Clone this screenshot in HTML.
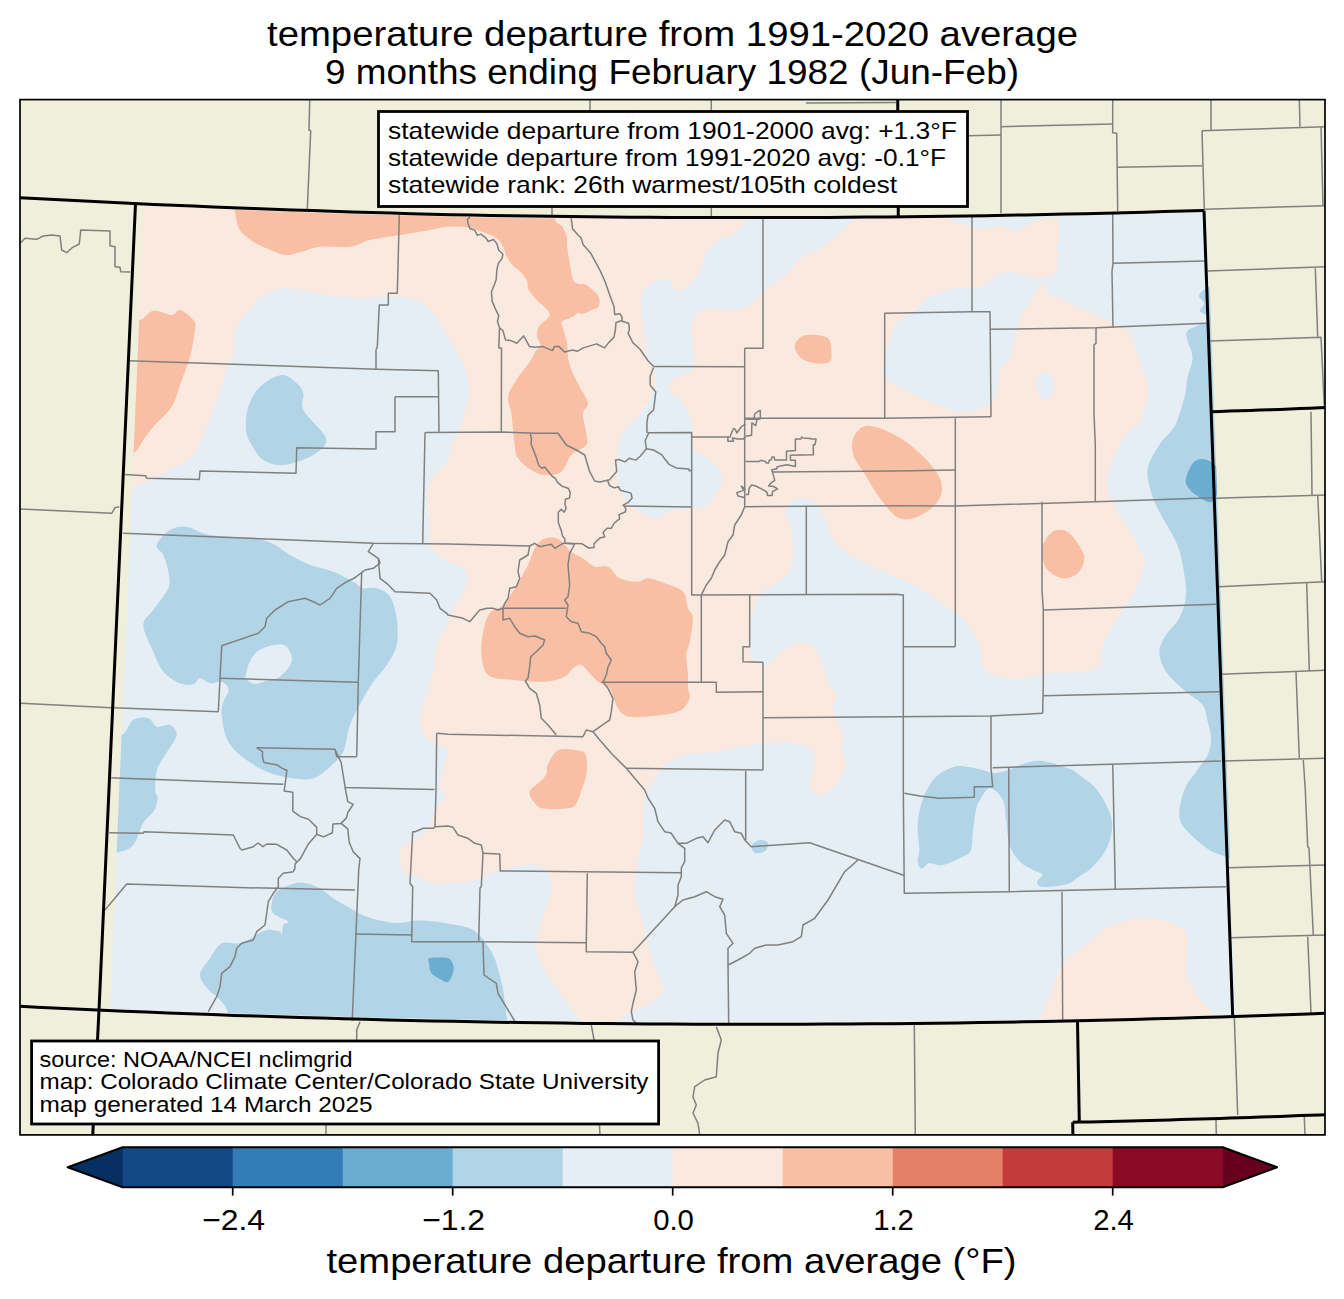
<!DOCTYPE html>
<html><head><meta charset="utf-8"><style>
html,body{margin:0;padding:0;background:#fff;}
svg{display:block;}
text{font-family:"Liberation Sans",sans-serif;fill:#000;}
</style></head><body>
<svg width="1344" height="1299" viewBox="0 0 1344 1299">
<defs>
<clipPath id="frame"><rect x="20" y="100" width="1305" height="1035"/></clipPath>
<clipPath id="data"><polygon points="144,205.9 170.6,207.1 197.2,208.2 223.7,209.3 250.3,210.4 276.9,211.4 303.5,212.3 330,213.2 356.6,214.1 383.2,214.9 409.8,215.6 436.3,216.3 462.9,216.9 489.5,217.4 516.1,217.9 542.6,218.2 569.2,218.6 595.8,218.9 622.4,219.1 649,219.3 675.5,219.5 702.1,219.6 728.7,219.6 755.3,219.6 781.8,219.6 808.4,219.5 835,219.4 861.6,219.2 888.1,218.9 914.7,218.7 941.3,218.3 967.9,217.9 994.4,217.5 1021,217 1047.6,216.5 1074.2,215.9 1100.7,215.3 1127.3,214.6 1153.9,213.9 1180.5,213.1 1207.1,212.3 1235.6,1014.4 1207.5,1015.3 1179.3,1016.2 1151.2,1016.9 1123.1,1017.7 1094.9,1018.3 1066.8,1019 1038.6,1019.5 1010.5,1020.1 982.4,1020.5 954.2,1020.9 926.1,1021.3 897.9,1021.6 869.8,1021.8 841.7,1022 813.5,1022.2 785.4,1022.3 757.2,1022.3 729.1,1022.3 701,1022.2 672.8,1022.1 644.7,1021.9 616.5,1021.7 588.4,1021.4 560.3,1021.1 532.1,1020.7 504,1020.3 475.8,1019.8 447.7,1019.2 419.5,1018.6 391.4,1018 363.3,1017.3 335.1,1016.5 307,1015.7 278.8,1014.8 250.7,1013.9 222.6,1013 194.4,1011.9 166.3,1010.8 138.1,1009.7 110,1008.5"/></clipPath>
</defs>
<rect width="1344" height="1299" fill="#fff"/>

<text x="267" y="45.5" font-size="34.5" textLength="811" lengthAdjust="spacingAndGlyphs">temperature departure from 1991-2020 average</text>
<text x="325" y="83.5" font-size="34.5" textLength="694" lengthAdjust="spacingAndGlyphs">9 months ending February 1982 (Jun-Feb)</text>
<g clip-path="url(#frame)">
<rect x="20" y="100" width="1305" height="1035" fill="#efefdb"/>
<g clip-path="url(#data)">
<polygon points="144,205.9 170.6,207.1 197.2,208.2 223.7,209.3 250.3,210.4 276.9,211.4 303.5,212.3 330,213.2 356.6,214.1 383.2,214.9 409.8,215.6 436.3,216.3 462.9,216.9 489.5,217.4 516.1,217.9 542.6,218.2 569.2,218.6 595.8,218.9 622.4,219.1 649,219.3 675.5,219.5 702.1,219.6 728.7,219.6 755.3,219.6 781.8,219.6 808.4,219.5 835,219.4 861.6,219.2 888.1,218.9 914.7,218.7 941.3,218.3 967.9,217.9 994.4,217.5 1021,217 1047.6,216.5 1074.2,215.9 1100.7,215.3 1127.3,214.6 1153.9,213.9 1180.5,213.1 1207.1,212.3 1235.6,1014.4 1207.5,1015.3 1179.3,1016.2 1151.2,1016.9 1123.1,1017.7 1094.9,1018.3 1066.8,1019 1038.6,1019.5 1010.5,1020.1 982.4,1020.5 954.2,1020.9 926.1,1021.3 897.9,1021.6 869.8,1021.8 841.7,1022 813.5,1022.2 785.4,1022.3 757.2,1022.3 729.1,1022.3 701,1022.2 672.8,1022.1 644.7,1021.9 616.5,1021.7 588.4,1021.4 560.3,1021.1 532.1,1020.7 504,1020.3 475.8,1019.8 447.7,1019.2 419.5,1018.6 391.4,1018 363.3,1017.3 335.1,1016.5 307,1015.7 278.8,1014.8 250.7,1013.9 222.6,1013 194.4,1011.9 166.3,1010.8 138.1,1009.7 110,1008.5" fill="#e4eef4"/>
<path d="M120,190C225.5,139.2 639.1,184.4 743,190C846.9,195.6 744.1,216.6 743.3,223.3C742.5,230 740.2,227.8 738,230C735.8,232.2 732.8,235.3 730,236.7C727.2,238.1 724.6,236.4 721.3,238.3C718,240.2 712.8,245.5 710,248.3C707.2,251.1 705.8,252.2 704.7,255C703.6,257.8 706.1,259.7 703.3,265C700.5,270.3 692.8,282.5 688,286.7C683.2,290.9 677.8,291.1 674.7,290C671.7,288.9 673,281.4 669.7,280C666.4,278.6 659.4,278.9 654.7,281.7C650,284.5 643,288.1 641.3,296.7C639.6,305.3 643.6,322.8 644.7,333.3C645.8,343.9 646.1,352.8 648,360C649.9,367.2 656,370 656.3,376.7C656.6,383.4 653.4,393.1 650,400C646.6,406.9 640.5,412.1 635.7,417.9C630.9,423.6 624.4,428.6 621.4,434.5C618.4,440.4 618.5,445.5 617.9,453.6C617.3,461.7 617.3,476.6 617.9,483.3C618.5,490 618.6,489.8 621.4,494C624.2,498.2 628.5,504.3 634.5,508.3C640.5,512.3 651,517.5 657.1,517.9C663.2,518.3 665,512.3 671.4,510.7C677.8,509.1 689.6,508.9 695.2,508.3C700.8,507.7 701.2,509.7 704.8,507.1C708.4,504.5 713.7,497.2 716.7,492.9C719.7,488.5 722.6,485.4 722.6,481C722.6,476.6 720.9,471.5 716.7,466.7C712.5,461.9 701.8,456.6 697.6,452.4C693.4,448.2 692.5,445.5 691.7,441.7C690.9,437.9 693.5,434.8 692.9,429.8C692.3,424.8 690.1,416.9 688.1,411.9C686.1,406.9 682.7,402.5 681,400C679.3,397.5 680.2,398.4 678,396.7C675.8,395 669.1,392.8 668,390C666.9,387.2 668,382.8 671.3,380C674.6,377.2 684.1,376.1 688,373.3C691.9,370.5 694.2,370 694.7,363.3C695.2,356.6 691.3,341.1 691.3,333.3C691.3,325.5 693.2,320.3 694.7,316.7C696.2,313.1 696.3,313.1 700,311.7C703.7,310.3 710.6,308.6 716.7,308.3C722.8,308 731.2,310.6 736.7,310C742.2,309.4 745,308.6 750,305C755,301.4 760.6,293.3 766.7,288.3C772.8,283.3 781.2,280 786.7,275C792.2,270 794.5,262.8 800,258.3C805.5,253.9 813.9,252.2 820,248.3C826.1,244.4 831.2,239.7 836.7,235C842.2,230.3 850.2,225.8 853.3,220C856.3,214.2 838.9,203.3 855,200C871.1,196.7 934,196.8 950,200C966,203.2 948.2,215.2 950.7,219.3C953.2,223.4 960.2,223 965,224.6C969.8,226.2 974.8,228.6 979.3,229.1C983.8,229.6 988.2,227.9 991.8,227.3C995.4,226.7 997.4,225.1 1000.7,225.5C1004,225.9 1008.1,229.2 1011.4,230C1014.7,230.8 1017.4,230.9 1020.4,230C1023.4,229.1 1025.7,226.4 1029.3,224.6C1032.9,222.8 1037.3,220.3 1041.8,219.3C1046.2,218.3 1053.2,217.5 1056,218.4C1058.8,219.3 1058.3,221.2 1058.8,224.6C1059.3,228 1059.3,235.3 1058.8,238.9C1058.3,242.5 1056,243.7 1056,246.1C1056,248.5 1058.8,250.5 1058.8,253.2C1058.8,255.9 1056,259.7 1056,262.1C1056,264.5 1059.4,265.3 1058.8,267.5C1058.2,269.7 1056.2,273.7 1052.5,275.5C1048.8,277.3 1041.2,278.2 1036.4,278.2C1031.6,278.2 1028.4,276.5 1023.9,275.5C1019.4,274.5 1014.1,272.1 1009.6,272C1005.1,271.9 1000.7,273 997.1,274.6C993.5,276.2 991.5,279.6 988.2,281.8C984.9,284 982.9,287 977.5,288C972.1,289 962.1,287.2 956.1,288C950.1,288.8 946.6,290.9 941.8,292.5C937,294.1 932,294.9 927.5,297.9C923,300.9 920.1,306.1 915,310.4C909.9,314.7 901.3,317.2 896.8,323.5C892.3,329.8 890.3,340.2 887.9,348C885.5,355.8 882.1,364.8 882.3,370.4C882.5,376 883.4,377.4 889,381.5C894.6,385.6 905.8,390.2 915.8,394.9C925.8,399.5 941.1,406.5 949.3,409.4C957.5,412.3 959.3,412.6 964.9,412.2C970.5,411.8 977.9,409.3 982.8,407.2C987.6,405.1 991.4,402.8 994,399.4C996.6,396 997.5,391.8 998.4,387.1C999.3,382.5 997.6,376.5 999.5,371.5C1001.4,366.5 1006.6,365.9 1010,357C1013.4,348.1 1016.7,327.3 1020,318.3C1023.3,309.3 1027.6,307.3 1030,303C1032.4,298.7 1032,295.7 1034.6,292.5C1037.2,289.3 1043.2,283.3 1045.4,283.6C1047.6,283.9 1046.2,292.1 1048,294.3C1049.8,296.5 1052.9,295.8 1056,297C1059.1,298.2 1062.8,299.5 1066.8,301.4C1070.8,303.3 1072.8,305.2 1080,308.6C1087.2,312 1101.7,317.6 1110,321.7C1118.3,325.8 1125.5,328.3 1130,333.3C1134.5,338.3 1134.5,345.3 1136.7,351.7C1138.9,358.1 1141.4,365 1143.3,371.7C1145.2,378.4 1148.5,383.4 1148,391.7C1147.5,400 1144.1,413.9 1140,421.7C1135.9,429.5 1127.8,432.2 1123.3,438.3C1118.8,444.4 1116.1,451.1 1113.3,458.3C1110.5,465.5 1106.7,473.9 1106.7,481.7C1106.7,489.5 1110,497.8 1113.3,505C1116.6,512.2 1122.2,517.5 1126.7,525C1131.2,532.5 1137,543.6 1140,550C1143,556.4 1146.1,556.1 1145,563.3C1143.9,570.5 1138,583.8 1133.3,593.3C1128.6,602.8 1121.7,611.7 1116.7,620C1111.7,628.3 1106.1,635.8 1103.3,643.3C1100.5,650.8 1103.3,660.3 1100,665C1096.7,669.7 1092.2,670.3 1083.3,671.7C1074.4,673.1 1056.1,672.2 1046.7,673.3C1037.3,674.4 1035,677.7 1026.7,678.3C1018.4,678.9 1003.9,678.6 996.7,676.7C989.5,674.8 986.1,671.7 983.3,666.7C980.5,661.7 982.8,653.9 980,646.7C977.2,639.5 972.2,630 966.7,623.3C961.2,616.6 955,612.8 946.7,606.7C938.4,600.6 926.7,592.3 916.7,586.7C906.7,581.1 897.3,578.3 886.7,573.3C876.1,568.3 862.2,562.2 853.3,556.7C844.4,551.2 838.3,547 833.3,540C828.3,533 826.6,521.4 823.3,515C820,508.6 817.7,504.5 813.3,501.7C808.9,498.9 801.4,496.6 796.7,498.3C792,500 786.1,507.5 785,511.7C783.9,515.9 788.6,517.5 790,523.3C791.4,529.1 793.3,538.9 793.3,546.7C793.3,554.5 792.8,563.9 790,570C787.2,576.1 781.7,579.4 776.7,583.3C771.7,587.2 763.6,589.4 760,593.3C756.4,597.2 756.7,600.6 755,606.7C753.3,612.8 750.5,621.7 750,630C749.5,638.3 748.9,650.9 751.7,656.7C754.5,662.5 762,665.6 766.7,665C771.4,664.4 775,656.9 780,653.3C785,649.7 791.2,644.4 796.7,643.3C802.2,642.2 808.9,642.8 813.3,646.7C817.7,650.6 820.5,660 823.3,666.7C826.1,673.4 827.8,682.3 830,686.7C832.2,691.1 836.2,689.4 836.7,693.3C837.2,697.2 832.8,704.4 833.3,710C833.8,715.6 838.3,722.2 840,726.7C841.7,731.2 843,733.4 843.3,736.7C843.6,740 841.4,742.3 841.7,746.7C842,751.1 845.3,757.8 845,763.3C844.7,768.8 842,775.8 840,780C838,784.2 836.6,785.8 833.3,788.3C830,790.8 823.9,795.3 820,795C816.1,794.7 811.1,791.4 810,786.7C808.9,782 812.8,772.5 813.3,766.7C813.8,760.9 816.1,755.6 813.3,751.7C810.5,747.8 802.8,745 796.7,743.3C790.6,741.6 785.6,741.1 776.7,741.7C767.8,742.3 753.3,745 743.3,746.7C733.3,748.4 723.9,750.6 716.7,751.7C709.5,752.8 705.9,752.5 700,753.3C694.1,754.1 687.2,754.8 681.3,756.7C675.4,758.7 669.2,761.1 664.7,765C660.2,768.9 657.7,774.5 654.5,780C651.3,785.5 647.4,791.9 645.5,797.9C643.6,803.9 643.7,809 643.3,815.7C642.9,822.4 644,831.3 643.3,838C642.5,844.7 640.1,849.6 638.8,855.9C637.5,862.2 636.2,870 635.5,876C634.8,882 633.9,886 634.4,891.6C634.9,897.2 636.9,902.8 638.8,909.5C640.6,916.2 643.3,923.6 645.5,931.8C647.7,940 650,951.2 652.2,958.6C654.4,966 657,971.6 658.9,976.4C660.8,981.2 663.4,984.2 663.4,987.6C663.4,991 661.9,993.5 658.9,996.5C655.9,999.5 650,1002.8 645.5,1005.4C641,1008 636.2,1009.7 632.1,1012.1C628,1014.5 622.9,1015.4 621,1020C619.1,1024.7 628.1,1036.7 621,1040C613.9,1043.3 585.7,1043.3 578.6,1040C571.5,1036.7 580.5,1026.1 578.6,1020C576.7,1013.9 571.1,1008.6 567.4,1003.2C563.7,997.8 560.4,993.6 556.3,987.6C552.2,981.6 546.2,973.8 542.9,967.5C539.5,961.2 536.8,956.7 536.2,949.6C535.6,942.5 537.6,932.5 539.5,925.1C541.4,917.7 545.2,911.7 547.3,905C549.3,898.3 552,890.6 551.8,884.9C551.6,879.2 549.3,874.4 546.3,871C543.3,867.6 539.9,865.3 534,864.8C528.1,864.3 518.6,866.3 510.9,867.8C503.2,869.3 493.2,872.1 487.8,874C482.4,875.9 483.6,878 478.5,879.4C473.4,880.8 464.9,881.8 457,882.4C449.1,883 437.7,884.4 430.8,883.2C423.9,882.1 419.8,877.3 415.4,875.5C411,873.7 407.2,874.7 404.6,872.4C402,870.1 400.5,865.8 400,861.7C399.5,857.6 399.8,851.1 401.6,847.8C403.4,844.4 407.2,843.6 410.8,841.6C414.4,839.6 419.8,838.6 423.1,835.5C426.4,832.4 428.8,827.8 430.8,823.2C432.9,818.6 433.1,811.9 435.4,807.8C437.7,803.7 443.9,802.1 444.7,798.5C445.5,794.9 440,792.4 440,786.2C440,780.1 443.4,767.8 444.7,761.6C446,755.5 449.2,752.4 447.7,749.3C446.1,746.2 439.5,745.7 435.4,743.1C431.3,740.5 425.7,738.5 423.1,733.9C420.5,729.3 419.8,721 420,715.4C420.2,709.8 422.4,707.3 424.6,700C426.8,692.7 431.3,680.9 433.3,671.7C435.3,662.5 434.2,653.3 436.7,645C439.1,636.7 445.6,627.2 448,621.7C450.4,616.2 449.1,616.2 451.3,611.7C453.5,607.2 458.5,600.6 461.3,595C464.1,589.4 468,583 468,578.3C468,573.6 464.6,569.5 461.3,566.7C458,563.9 452.9,564.8 448,561.7C443.1,558.6 434.7,553.9 431.7,548.3C428.7,542.7 430.8,537.2 430,528.3C429.2,519.4 426.1,503.9 426.7,495C427.2,486.1 429.8,480.8 433.3,475C436.9,469.2 445,465 448,460C451,455 449.6,449.4 451.3,445C453,440.6 455.5,439.7 458,433.3C460.5,426.9 464.6,415 466.3,406.7C468,398.4 468.8,391.1 468,383.3C467.2,375.5 464.6,367.6 461.3,360C458,352.4 453.2,346.3 448,338C442.8,329.7 436.3,316.6 430,310C423.7,303.4 417.8,300.5 410,298.3C402.2,296.1 392.2,296.7 383.3,296.7C374.4,296.7 367.2,298.9 356.7,298.3C346.1,297.7 332.2,295 320,293.3C307.8,291.6 293.3,287.5 283.3,288.3C273.3,289.1 266.1,294.1 260,298.3C253.9,302.5 250.9,308 246.7,313.3C242.5,318.6 237.2,323.3 235,330C232.8,336.7 234.7,346.6 233.3,353.3C231.9,360 229.2,362.8 226.7,370C224.2,377.2 221.4,387.8 218.3,396.7C215.2,405.6 211.1,416.1 208.3,423.3C205.5,430.5 203.6,435.6 201.7,440C199.8,444.4 198.6,446.9 196.7,450C194.8,453.1 194.4,455 190,458.3C185.6,461.6 177.2,466.1 170,470C162.8,473.9 152.8,478.6 146.7,481.7C140.6,484.8 139.4,486.1 133.3,488.3C127.2,490.5 112.2,544.7 110,495C107.8,445.3 14.5,240.8 120,190Z" fill="#fae9df"/>
<path d="M1039.3,1020C1041.7,1012.8 1045.4,1005.9 1049.3,996.7C1053.2,987.5 1057.1,973.3 1062.7,965C1068.3,956.7 1076,952.5 1082.7,946.7C1089.4,940.9 1096,934.2 1102.7,930C1109.4,925.8 1115.5,923.8 1122.7,921.7C1129.9,919.7 1137.7,917.4 1146,917.7C1154.3,918 1165.8,920.1 1172.7,923.3C1179.7,926.5 1185.5,928.9 1187.7,936.7C1189.9,944.5 1184.6,960.6 1186,970C1187.4,979.4 1191.8,986.1 1196,993.3C1200.2,1000.5 1207.8,1005.5 1211,1013.3C1214.2,1021.1 1244.3,1035.5 1215,1040C1185.7,1044.5 1064.3,1043.3 1035,1040C1005.7,1036.7 1036.9,1027.2 1039.3,1020Z" fill="#fae9df"/>
<ellipse cx="1045" cy="386" rx="8.5" ry="14" fill="#e4eef4"/>
<path d="M235,195C288.8,193.1 504.6,195.9 558,200C611.4,204.1 554.5,215.1 555.1,219.4C555.7,223.8 559.9,223.4 561.8,226.1C563.7,228.8 565.6,232.1 566.5,235.4C567.4,238.8 566.6,241.5 567.1,246.2C567.6,250.9 568.8,258 569.8,263.6C570.8,269.2 571.9,276.2 573.2,279.6C574.5,283 575.9,282.9 577.8,283.7C579.7,284.5 582.5,283.6 584.5,284.3C586.5,285 587.5,285.7 589.9,287.7C592.2,289.7 597.1,293.3 598.6,296.4C600.1,299.5 599.9,304.1 598.6,306.4C597.3,308.7 593.2,309.2 590.6,310.4C588,311.6 585.3,313.4 583.2,313.8C581.1,314.2 579.6,312.6 577.8,313.1C576,313.7 575.2,315.7 572.5,317.1C569.8,318.6 563.4,320 561.8,321.8C560.2,323.6 562.4,325.3 563.1,327.9C563.8,330.5 565.1,334.5 565.8,337.2C566.5,339.9 566.6,340.1 567.1,343.9C567.6,347.7 567.5,355.1 568.5,360C569.5,364.9 571.1,368.9 573,373.3C574.9,377.8 577.2,381.7 579.7,386.7C582.2,391.7 587.5,398.9 588,403.3C588.5,407.7 583.3,408.3 583,413.3C582.7,418.3 585.8,428 586.3,433.3C586.8,438.6 588.8,441.4 586.3,445C583.8,448.6 575.5,450.6 571.3,455C567.1,459.4 565.7,468.4 561.3,471.7C556.9,475 549.7,475.3 544.7,475C539.7,474.7 535.8,472.8 531.3,470C526.8,467.2 520.8,462.5 518,458.3C515.2,454.1 515.8,452.5 514.7,445C513.6,437.5 512.4,421.4 511.3,413.3C510.2,405.2 507.2,402.2 508,396.7C508.8,391.1 512.5,386.1 516.3,380C520.1,373.9 527.9,364.7 531,360C534.1,355.3 533.4,354.4 535,352C536.6,349.6 540.1,348 540.4,345.3C540.7,342.6 537.2,339 537,335.9C536.8,332.8 536.9,330.2 539,326.5C541.1,322.8 550.2,318.3 549.7,313.8C549.2,309.3 539.9,303.8 536.3,299.7C532.7,295.6 529.8,292.1 528.3,289C526.8,285.9 528.3,283.9 527,281C525.7,278.1 522.5,274.1 520.3,271.6C518.1,269.1 515.8,268.6 513.6,266.2C511.4,263.8 508.7,260.2 506.9,256.9C505.1,253.6 504.7,249.3 502.9,246.2C501.1,243.1 498.9,240.2 496.2,238.1C493.5,236 491.5,235.2 486.8,233.4C482.1,231.6 474.5,228.5 468,227.4C461.5,226.3 454.3,226.3 448,226.7C441.7,227.1 438,228.6 430,230C422,231.4 410,233.3 400,235C390,236.7 378.3,238.1 370,240C361.7,241.9 358.3,245.6 350,246.7C341.7,247.8 328.1,245.9 320,246.7C311.9,247.5 307.5,250.3 301.7,251.7C295.9,253.1 290.8,255.6 285,255C279.2,254.4 272,250.5 266.7,248.3C261.4,246.1 257.8,244.8 253.3,241.7C248.9,238.6 243.1,235 240,230C236.9,225 235.8,217.5 235,211.7C234.2,205.9 181.2,196.9 235,195Z" fill="#f8bfa4"/>
<path d="M120,320C123.3,298 134.4,321.6 140,320C145.6,318.4 148,311.5 153.3,310.7C158.6,309.9 167.2,315.1 171.7,315C176.1,314.9 176.4,309.2 180,310C183.6,310.8 190.8,316.7 193.3,320C195.8,323.3 195.6,323.9 195,330C194.4,336.1 192.2,348.4 190,356.7C187.8,365 184.8,371.7 181.7,380C178.6,388.3 176.4,398.9 171.7,406.7C167,414.5 158,421.1 153.3,426.7C148.6,432.2 146.4,435.8 143.3,440C140.2,444.2 138.9,450 135,452C131.1,454 122.5,474 120,452C117.5,430 116.7,342 120,320Z" fill="#f8bfa4"/>
<path d="M794.7,346.7C794.7,343.1 798,338.6 801.3,336.7C804.6,334.8 810.2,334.7 814.7,335C819.2,335.3 825.2,335.8 828,338.3C830.8,340.8 831,346.1 831.3,350C831.6,353.9 832.5,359.5 829.7,361.7C826.9,363.9 819.4,363.9 814.7,363.3C810,362.7 804.6,361.1 801.3,358.3C798,355.5 794.7,350.3 794.7,346.7Z" fill="#f8bfa4"/>
<path d="M539.7,541.7C541.9,539.9 544.7,538 548,537.7C551.3,537.4 555.8,537.7 559.7,540C563.6,542.3 567.4,548.7 571.3,551.7C575.2,554.8 579.1,555.8 583,558.3C586.9,560.8 590.5,565.3 594.7,566.7C598.9,568.1 603.8,564.8 608,566.7C612.2,568.6 614.7,575.8 619.7,578.3C624.7,580.8 633.3,581.7 638,581.7C642.7,581.7 643.5,578 648,578.3C652.5,578.6 658.9,581.1 664.7,583.3C670.5,585.5 679.1,587.5 683,591.7C686.9,595.9 686.3,603.9 688,608.3C689.7,612.7 692.7,612.7 693,618.3C693.3,623.9 690.8,635.6 689.7,641.7C688.6,647.8 686.6,649.5 686.3,655C686,660.5 687.7,669.5 688,675C688.3,680.5 687.7,684.4 688,688.3C688.3,692.2 690.8,694.7 689.7,698.3C688.6,701.9 686,707.2 681.3,710C676.6,712.8 669.9,713.9 661.3,715C652.7,716.1 636.9,717.8 629.7,716.7C622.5,715.6 621.3,713 618,708.3C614.7,703.6 613,692.7 609.7,688.3C606.4,683.9 601.1,683.9 598,681.7C594.9,679.5 594.1,677.8 591.3,675C588.5,672.2 584.3,666.1 581.3,665C578.2,663.9 575.8,666.3 573,668.3C570.2,670.2 569.4,674.5 564.7,676.7C560,678.9 553,681.2 544.7,681.7C536.4,682.2 524.2,681.1 514.7,680C505.3,678.9 493.6,679.7 488,675C482.4,670.3 481.9,660 481.3,651.7C480.8,643.4 483,631.7 484.7,625C486.4,618.3 488.2,615 491.3,611.7C494.4,608.4 499.1,608.9 503,605C506.9,601.1 510.5,595 514.7,588.3C518.9,581.6 524.7,571.7 528,565C531.3,558.3 532.8,552.2 534.7,548.3C536.7,544.4 537.5,543.5 539.7,541.7Z" fill="#f8bfa4"/>
<path d="M558.6,750C564,747.7 575.4,749.7 580,750.8C584.6,751.9 585.2,752.7 586.3,756.7C587.3,760.7 587.1,769.5 586.3,775C585.5,780.5 582.7,785.8 581.3,790C579.9,794.2 579.7,797 578,800C576.3,803 576.7,806.4 570.9,807.8C565.1,809.2 549.6,809.8 543.2,808.5C536.8,807.2 534.6,803 532.4,800C530.2,797 528.8,793.9 530.1,790.8C531.4,787.7 537.4,784.4 540.1,781.6C542.8,778.8 545,776.7 546.3,773.9C547.6,771.1 545.8,768.7 547.8,764.7C549.8,760.7 553.2,752.3 558.6,750Z" fill="#f8bfa4"/>
<path d="M853.3,438.3C855,433.6 858.8,428.4 863.3,426.7C867.8,425 873.3,426.1 880,428.3C886.7,430.5 896.1,435.3 903.3,440C910.5,444.7 917.5,450.9 923.3,456.7C929.1,462.5 935.2,469.2 938.3,475C941.4,480.8 942.5,486.4 941.7,491.7C940.9,497 938,502.3 933.3,506.7C928.6,511.1 919.4,516.6 913.3,518.3C907.2,520 902.2,520 896.7,516.7C891.2,513.4 885.6,505.8 880,498.3C874.4,490.8 867.8,478.9 863.3,471.7C858.8,464.5 855,460.6 853.3,455C851.6,449.4 851.6,443 853.3,438.3Z" fill="#f8bfa4"/>
<path d="M1042.7,545C1044.4,540.6 1048.8,534 1052.7,531.7C1056.6,529.4 1061.8,529.1 1066,531C1070.2,532.9 1074.7,538.8 1077.7,543.3C1080.8,547.8 1084.3,553.3 1084.3,558.3C1084.3,563.3 1081.3,570 1077.7,573.3C1074.1,576.6 1067.7,578.8 1062.7,578.3C1057.7,577.8 1051,573.3 1047.7,570C1044.4,566.7 1043.5,562.5 1042.7,558.3C1041.9,554.1 1041,549.4 1042.7,545Z" fill="#f8bfa4"/>
<path d="M248.3,406.7C250.6,399.5 254.4,392 260,386.7C265.6,381.4 275.6,375.6 281.7,375C287.8,374.4 293.1,380.2 296.7,383.3C300.3,386.4 302.2,388.9 303.3,393.3C304.4,397.8 300,403.3 303.3,410C306.6,416.7 319.7,427.5 323.3,433.3C326.9,439.1 327.2,441.1 325,445C322.8,448.9 316.9,453.4 310,456.7C303.1,460 291.1,464.4 283.3,465C275.5,465.6 268.6,463.3 263.3,460C258,456.7 254.6,450 251.7,445C248.8,440 246.6,436.4 246,430C245.4,423.6 246,413.9 248.3,406.7Z" fill="#b1d5e7"/>
<path d="M156.7,545C157.8,540.8 165,533 170,530C175,527 180,525.9 186.7,526.7C193.4,527.5 197.2,532.8 210,535C222.8,537.2 250,536.7 263.3,540C276.6,543.3 282.2,550.8 290,555C297.8,559.2 302.8,562.2 310,565C317.2,567.8 326.1,568.9 333.3,571.7C340.5,574.5 348.3,578.9 353.3,581.7C358.3,584.5 359.4,587.2 363.3,588.3C367.2,589.4 372.2,586.9 376.7,588.3C381.1,589.7 386.7,591.7 390,596.7C393.3,601.7 395.6,610.2 396.7,618.3C397.8,626.3 398.4,637.2 396.7,645C395,652.8 390.6,658.9 386.7,665C382.8,671.1 377.2,676.2 373.3,681.7C369.4,687.2 367.2,691.1 363.3,698.3C359.4,705.5 353.3,716.1 350,725C346.7,733.9 346.6,744.8 343.3,751.7C340,758.7 335,762.3 330,766.7C325,771.1 319.4,776.4 313.3,778.3C307.2,780.2 301.1,779.4 293.3,778.3C285.5,777.2 275.6,775.6 266.7,771.7C257.8,767.8 246.7,760.6 240,755C233.3,749.4 229.8,745 226.7,738.3C223.6,731.6 222.3,721.1 221.7,715C221.1,708.9 222.2,705.6 223.3,701.7C224.4,697.8 227.7,694.5 228.3,691.7C228.9,688.9 228.1,686.7 226.7,685C225.3,683.3 222.8,682 220,681.7C217.2,681.4 213.3,683.9 210,683.3C206.7,682.7 202.8,678.1 200,678.3C197.2,678.5 196.6,683.5 193.3,684.3C190,685.1 185,685.4 180,683.3C175,681.2 167.8,677 163.3,671.7C158.9,666.4 156.6,659.5 153.3,651.7C150,643.9 143.3,632 143.3,625C143.3,618 149.1,616.1 153.3,610C157.5,603.9 165.8,594.7 168.3,588.3C170.8,581.9 169.1,577.2 168.3,571.7C167.5,566.2 165.2,559.5 163.3,555C161.4,550.5 155.6,549.2 156.7,545Z" fill="#b1d5e7"/>
<path d="M100,735C103.6,715 116.2,737.5 121.7,735C127.2,732.5 128.9,722.8 133.3,720C137.7,717.2 144.4,717.2 148.3,718.3C152.2,719.4 153.1,725.6 156.7,726.7C160.3,727.8 166.8,724.1 170,725C173.2,725.9 175.4,729.6 176.2,732C177,734.4 177.1,735.3 175,739.4C172.9,743.5 167,751.4 163.9,756.7C160.8,762 157.9,765.7 156.5,771.4C155.1,777.1 155.1,786.6 155.3,791.1C155.5,795.6 157.9,795.2 157.7,798.5C157.5,801.8 156.4,806.7 154,810.8C151.6,814.9 146.5,817.5 143,823.2C139.5,829 137.4,840.4 133.1,845.3C128.8,850.2 122.6,851.1 117.1,852.7C111.6,854.3 102.8,874.6 100,855C97.2,835.4 96.4,755 100,735Z" fill="#b1d5e7"/>
<path d="M200,975C200.2,969.7 206.4,963.6 210,958.3C213.6,953 216.7,945.8 221.7,943.3C226.7,940.8 234.7,944.4 240,943.3C245.3,942.2 248.9,938.9 253.3,936.7C257.8,934.5 262.2,930.8 266.7,930C271.1,929.2 277.5,930.6 280,931.7C282.5,932.8 281.1,937.8 281.7,936.7C282.2,935.6 282.2,927.5 283.3,925C284.4,922.5 290,923.7 288.3,921.7C286.6,919.8 276.1,916.4 273.3,913.3C270.5,910.2 271.1,906.9 271.7,903.3C272.3,899.7 273.6,894.8 276.7,891.7C279.8,888.7 285.6,886.5 290,885C294.4,883.5 298.3,882.2 303.3,882.7C308.3,883.2 315,885.7 320,888.3C325,890.9 327.8,894.7 333.3,898.3C338.9,901.9 347.7,906.9 353.3,910C358.9,913.1 361.1,914.8 366.7,916.7C372.3,918.7 381.1,920.7 386.7,921.7C392.2,922.7 394.4,923.1 400,922.9C405.6,922.7 412.7,920.6 420.1,920.6C427.5,920.6 436.8,921.8 444.6,922.9C452.4,924 461.4,925.4 467,927.3C472.6,929.1 474.8,931 478.1,934C481.5,937 484.5,941.5 487.1,945.2C489.7,948.9 492,952.2 493.8,956.3C495.6,960.4 496.7,964.5 498.2,969.7C499.7,974.9 501.6,982 502.7,987.6C503.8,993.2 504.2,997.8 504.9,1003.2C505.6,1008.6 506.2,1013.9 507.1,1020C508,1026.1 556.5,1036.7 510,1040C463.5,1043.3 275,1044.5 228,1040C181,1035.5 229.5,1019.9 228,1013C226.5,1006.1 222.4,1002.7 219.2,998.9C216,995.1 212,994 208.8,990C205.6,986 199.8,980.3 200,975Z" fill="#b1d5e7"/>
<path d="M752,845C752.8,842.8 757.3,840.3 760,840C762.7,839.7 767.2,841.2 768,843C768.8,844.8 767.2,849.3 765,851C762.8,852.7 757.2,854 755,853C752.8,852 751.2,847.2 752,845Z" fill="#b1d5e7"/>
<path d="M1213,287C1218.8,286.7 1233.8,189.8 1240,287C1246.2,384.2 1251.8,774.8 1250,870C1248.2,965.2 1236.1,861.6 1229.3,858.3C1222.5,855 1216,854.2 1209.3,850C1202.6,845.8 1194.3,838.8 1189.3,833.3C1184.3,827.8 1180.1,823.9 1179.3,816.7C1178.5,809.5 1181.5,797.5 1184.3,790C1187.1,782.5 1192.1,777.5 1196,771.7C1199.9,765.9 1205.2,760.6 1207.7,755C1210.2,749.4 1211,743.8 1211,738.3C1211,732.8 1209.1,727.2 1207.7,721.7C1206.3,716.2 1206.3,710 1202.7,705C1199.1,700 1192.1,697.2 1186,691.7C1179.9,686.2 1170.5,678.4 1166,671.7C1161.5,665 1159.3,657.8 1159.3,651.7C1159.3,645.6 1162.7,640.6 1166,635C1169.3,629.4 1176,625 1179.3,618.3C1182.6,611.6 1185.4,603.9 1186,595C1186.6,586.1 1184.4,573.9 1182.7,565C1181,556.1 1179.9,550.6 1176,541.7C1172.1,532.8 1163.5,520 1159.3,511.7C1155.1,503.4 1152.9,498.9 1151,491.7C1149.1,484.5 1146.3,476.1 1147.7,468.3C1149.1,460.5 1155.2,451.4 1159.3,445C1163.3,438.6 1169,434.2 1172,430C1175,425.8 1175.3,425.6 1177.5,419.8C1179.7,414 1183.3,402.1 1185,395C1186.7,387.9 1186.2,383.8 1187.5,377.5C1188.8,371.2 1192.7,364.8 1192.5,357.5C1192.3,350.2 1185.5,339.1 1186.3,333.8C1187,328.6 1193.2,328.1 1197,326C1200.8,323.9 1207.5,322.8 1209,321C1210.5,319.2 1207.5,316.7 1206,315C1204.5,313.3 1200.3,313 1200,311C1199.7,309 1204.2,305.5 1204,303C1203.8,300.5 1198.8,298.3 1199,296C1199.2,293.7 1202.7,290.5 1205,289C1207.3,287.5 1207.2,287.3 1213,287Z" fill="#b1d5e7"/>
<path d="M922.7,868.3C921,868.9 920.1,868.1 919.3,866.7C918.5,865.3 917.7,862.8 917.7,860C917.7,857.2 919.3,856.1 919.3,850C919.3,843.9 917.1,831.6 917.7,823.3C918.3,815 920.2,807.2 922.7,800C925.2,792.8 929.1,785 933,780C936.9,775 941.5,772.3 946,770C950.5,767.7 953.8,766 960,766C966.2,766 977.5,768.8 983,770C988.5,771.2 989,772.9 993,773C997,773.1 1002.2,771.9 1007.3,770.4C1012.4,768.9 1017.7,765.3 1023.6,763.7C1029.5,762.1 1034.8,760 1042.5,760.9C1050.2,761.8 1063.3,766.6 1069.6,769.1C1075.9,771.6 1075.9,772.4 1080.4,775.8C1084.9,779.2 1091.7,783.1 1096.7,789.4C1101.7,795.7 1107.7,806.6 1110.2,813.8C1112.7,821 1112.5,826.4 1111.6,832.7C1110.7,839 1108.2,845.8 1104.8,851.7C1101.4,857.6 1095.8,863.6 1091.3,867.9C1086.8,872.2 1081.8,874.7 1077.7,877.4C1073.6,880.1 1072.8,882.6 1066.9,884.2C1061,885.8 1047.5,887.4 1042.5,886.9C1037.5,886.4 1037.1,883.5 1037.1,881.5C1037.1,879.5 1043,876.5 1042.5,874.7C1042,872.9 1038,872.6 1034.4,870.6C1030.8,868.6 1024.9,866.5 1020.8,862.5C1016.7,858.5 1012.5,853.4 1010,846.3C1007.5,839.2 1007.2,827.7 1006,820C1004.8,812.3 1005.7,805.3 1003,800C1000.3,794.7 993.8,788 990,788C986.2,788 982.3,796.3 980,800C977.7,803.7 977.2,804.5 976,810C974.8,815.5 973.5,826.6 972.7,833.3C971.9,840 972.7,846.1 971,850C969.3,853.9 967.4,854.2 962.7,856.7C958,859.2 948.3,863.9 942.7,865C937.1,866.1 932.6,862.8 929.3,863.3C926,863.8 924.4,867.7 922.7,868.3Z" fill="#b1d5e7"/>
<path d="M245.5,675.5C246.4,672.2 248.4,663 251.2,658.5C254,654 257.3,651 262.5,648.6C267.7,646.2 277.6,643.7 282.3,644.4C287,645.1 289.3,649.6 290.7,652.9C292.1,656.2 292.6,660.2 290.7,664.2C288.8,668.2 283.6,674.1 279.4,676.9C275.2,679.7 269.5,680 265.3,681.2C261.1,682.4 257.3,684.5 254,684C250.7,683.5 246.9,679.7 245.5,678.3C244.1,676.9 244.6,678.8 245.5,675.5Z" fill="#e4eef4"/>
<path d="M429,958.6C430.7,957.7 435.8,957.5 439.1,957.5C442.5,957.5 446.7,957.1 449.1,958.6C451.5,960.1 453,963.8 453.6,966.4C454.2,969 453.4,971.6 452.5,974.2C451.6,976.8 449.9,981.1 448,982C446.1,982.9 444.1,981.3 441.3,979.8C438.5,978.3 433.4,975.9 431.3,973.1C429.2,970.3 429.4,965.5 429,963.1C428.6,960.7 427.3,959.5 429,958.6Z" fill="#6bacd1"/>
<path d="M1186,478.3C1186.8,474.4 1189.9,466.5 1192.7,463.3C1195.5,460.1 1199,458.7 1202.7,459C1206.4,459.3 1212.5,462.3 1215,465C1217.5,467.7 1217.5,470.6 1218,475C1218.5,479.4 1218.9,487.1 1217.7,491.7C1216.5,496.2 1214.6,501.8 1211,502.3C1207.4,502.9 1199.9,497.6 1196,495C1192.1,492.4 1189.4,489.5 1187.7,486.7C1186,483.9 1185.2,482.2 1186,478.3Z" fill="#6bacd1"/>
</g>
<g fill="none" stroke="#808080" stroke-width="1.5" stroke-linejoin="round">
<polyline points="309.7,100 309,130 310.7,130.7 307.3,209"/>
<polyline points="590,100 590,150 552,150 552,216"/>
<polyline points="711.3,100 711.3,217"/>
<polyline points="806,103 896,102.5"/>
<polyline points="1001,100 1001,213.3"/>
<polyline points="967.7,135.7 1001,135"/>
<polyline points="1001,126.7 1112,124"/>
<polyline points="1112.7,100 1112.7,132.7 1116.7,133.3 1117.7,211"/>
<polyline points="1117.7,167.3 1202,165.7"/>
<polyline points="1211,100 1211,130.7"/>
<polyline points="1202,130.7 1325,126.7"/>
<polyline points="1202,130.7 1204.3,210"/>
<polyline points="1299.3,100 1300,126.7"/>
<polyline points="1321,126.7 1323,205"/>
<polyline points="1204.3,209.3 1325,205.7"/>
<polyline points="1207.7,271 1325,266.7"/>
<polyline points="1315.3,268.3 1317.7,336.7"/>
<polyline points="1209.3,341 1321,337.3 1324.3,407"/>
<polyline points="1311,411.7 1312,495"/>
<polyline points="1216,498.3 1325,495"/>
<polyline points="1317.7,495 1321.7,581.7"/>
<polyline points="1218.7,586.7 1325,581.7"/>
<polyline points="1306.7,583.3 1309.3,671"/>
<polyline points="1221,674.3 1325,670.3"/>
<polyline points="1296,671.7 1299.3,758.3"/>
<polyline points="1222.7,761 1325,758.3"/>
<polyline points="1303.3,760 1305.3,790 1307.7,846.7 1309,848 1313.3,935"/>
<polyline points="1228.7,867.7 1325,865"/>
<polyline points="1231,937.7 1325,935"/>
<polyline points="1307.7,936.7 1311,1012.7"/>
<polyline points="1234.3,1016.7 1237.7,1115"/>
<polyline points="1216,1120 1216.3,1135"/>
<polyline points="1304.3,1116.7 1305,1135"/>
<polyline points="914.3,1025 915.3,1135"/>
<polyline points="716.3,1026.7 721.3,1040 718,1053 716.3,1076.7 704.7,1080 694.7,1086.7 693,1097 696.3,1105 693,1113 698,1123.3 699.7,1135"/>
<polyline points="591.3,1025 595,1045 598,1100 600,1135"/>
<polyline points="20.7,242.7 25,238.3 36.7,239.3 43.3,236 51.7,235 60,236 61.7,250 66.7,252.7 72.7,247.3 79.3,244 80.7,230 110,231 110,245.7 115,246.7 115,266.7 120,267.3 120.7,271.7 130.7,272"/>
<polyline points="20.7,509 111.7,513.3 115,507.7 119.3,506.7"/>
<polyline points="20.7,703.3 111.7,707.7"/>
<polyline points="360,1021.7 356.7,1030 356.7,1045"/>
<polyline points="326,1120 326,1135"/>
<polyline points="129.3,360.7 376.7,369.3 438.3,370.7 439,432.5"/>
<polyline points="399.3,215 397.3,293.3 388.3,293.3 388.3,305 379.3,305 377.3,346.7 376,350 376,369.3"/>
<polyline points="395,396.7 438.3,396.7"/>
<polyline points="395,396.7 395,431.7 376,431.7 376,449 296.7,447.7 296,473.3 200,471 199.3,479.5 146.6,478.2 145.7,475.7 125,474.5"/>
<polyline points="425,432.5 501.3,432 536.3,433.3 558,433.3 566.3,445 576.3,450 584.7,455 589.7,471.7 594.7,481 600,482.1 609.5,479.8 616.7,471.4 615.5,460.1 619,459.5 625,461.9 629.2,458.3 635.7,460.1 640.5,456 646.4,448.8 645.2,440.5 648.8,432.7 646.9,432.1 646.9,423.2 648,415.4 653.6,409.8 654.7,400.9 655.8,392 650.2,385.3 650.2,376.3 653.6,367.4"/>
<polyline points="425,432.5 422.7,543.3"/>
<polyline points="470,216.7 467.4,219.4 468,223.4 470,228.7 474.7,230.1 477.4,235.4 480.8,234.1 486.1,238.1 488.1,241.5 493.5,239.5 496.8,243.5 498.8,250.2 502.9,254.2 502.2,258.2 498.2,263.6 496.8,270.3 496.2,279.6 494.2,285 491.5,291.7 492.1,301.1 495.5,309.1 498.8,315.8 497.5,321.2 499.5,327.9 502.9,330.5 505.5,339.9 510.9,340.6 516.9,343.3 523.6,335.9 529.6,346.6 535,347.3 543,346.6 552.4,350.6 554.4,346.6 559.1,346.6 564.5,352 572.5,350 577.2,351.3 583.2,347.9 596.6,343.9 604.6,347.9 608.7,342.6 614,337.2 615.3,330.5 616,322.5 622,320.5"/>
<polyline points="499.5,327.9 498.8,347.9 501.5,347.9 501.3,432"/>
<polyline points="571.2,218 572.5,228.7 577.8,234.8 581.2,238.1 583.2,244.8 590.6,252.9 600,270.3 605.3,282.3 610,295.7 614,306.4 614.7,314.5 620,313.8 622,317.1 622,321.2 628.7,323.2 629.4,329.2 628.1,333.2 632.8,342.6 640,349.3 648,360.7 653.6,366.5"/>
<polyline points="653.6,366.5 744.7,366.7"/>
<polyline points="646.4,448.8 653.6,450 661.9,454.8 664.3,458.3 669,464.3 676.2,467.9 688.7,469 689.3,470.8 691.7,470.2"/>
<polyline points="648.8,432.7 691.7,432.4 691.7,595"/>
<polyline points="691.7,436.9 727.9,436.9"/>
<polyline points="607.7,480.7 609.5,485.5 614.3,487.9 618.5,486.7 620.2,490.2 625,491.4 631,493.2 632.1,498 628.6,502.1 623.2,505.1 625.6,508.1 625.6,511.7 619,514.6 619.6,518.8 614.3,523 611.3,528.3 607.1,528.3 603,532.5 604.8,536.7 600,537.9 594,543.8 594,547.4 588.7,548 582.1,543.8 565.5,543.2"/>
<polyline points="623.8,506 691.7,507.1"/>
<polyline points="530.4,433.7 531.5,439 531,443.8 535.7,455.7 538.7,465.2 541.7,468.2 544.6,467 552.4,476.5 555.4,478.3 557.1,481.9 561.9,486.1 568.5,488.5 570.2,492.6 569.6,498 565.5,499.2 564.9,504.5 566.1,508.1 564.3,512.3 561.3,509.3 558.3,512.3 558.3,522.4 561.3,530.7 562.5,536.1 564.9,539 564.9,542.6"/>
<polyline points="122.7,533.3 373.3,543.3 448,544 529.7,546 534.7,543.3 539.7,546.7 551.3,544.3 554.7,548.3 563,543.3 564.7,543.3 574.7,544"/>
<polyline points="373.3,543.3 368.3,551.7 378.3,558.3 380,563 373.3,568.3 365,570 355,577.7 346.7,581.7 336.7,588.3 330,598.3 320,605 313.3,601.7 305,598.3 288.3,601.7 275,610 266.7,618.3 265,626.7 258.3,633.3 221.7,645.7 220,678.3 218.3,711.7"/>
<polyline points="378.3,558.3 380,578.3 386.7,583.3 395,591.7 430,593.3 436.7,600 440,608.3 446.7,613.3 448,615 463,618.3 469.7,621.7 479.7,610 487.3,608.3 493,608.3 498,610 503,608.3"/>
<polyline points="361.7,571.7 358.3,681.7 356.7,756.7"/>
<polyline points="220,678.3 358.3,682.3"/>
<polyline points="113.3,707.7 218.3,711.7"/>
<polyline points="110,777.7 283.3,784.3"/>
<polyline points="256.7,747.7 335,749.3 336.7,756.7 356.7,756.7"/>
<polyline points="256.6,747.5 262.5,751.6 262.5,757 263.9,762.4 277.4,765.1 281.5,767.8 286.9,770.5 285.5,781.4 284.2,790.9 292.8,792.2 292.8,811.2 300.4,816.6 308.6,819.3 316.7,827.4 316.7,834.2 308.6,843.7 300.4,858.6 295,864 295,868.3 293.3,871.7 283.3,873.3 278.3,878.3 278.3,886.7 273.3,893.3 268.3,901.7 266.7,913.3 265,925 256.7,931.7 253.3,940 241.7,943.3 236.7,948.3 235,956.7 230,966.7 221.7,973.3 220,986.7 216.7,996.7 208.3,1011.7"/>
<polyline points="335.1,749.7 341.1,762.4 345.1,786.8 345.1,787.6 434.5,789.5"/>
<polyline points="345.1,787.6 347.8,801.7 353.2,804.4 347.8,812.5 346.5,817.9 341.1,823.4 332.9,823.9 332.4,832.8 323.5,836.9 316.7,834.2"/>
<polyline points="341.1,823.4 347.8,828.8 349.2,842.3 353.2,851.8 360,858.6 358.7,870 352.2,1021"/>
<polyline points="109.3,832.7 143.3,833.3 144,831.7 233.3,835 240,848.3 242,850 253.3,846.7 258,843 263,846.7 267,844 276.7,844.3 286.7,850 293.3,858.3 296.7,861.7"/>
<polyline points="105,910 126.7,884 246.7,887.7 355,890"/>
<polyline points="355,934 411.7,935"/>
<polyline points="436.7,733.3 448,734.3 583,736.7"/>
<polyline points="436.7,733.3 436,790 435,826.7 433.3,828.3 423.3,828.3 415,831.7 412.7,831.7 410,883.3 412.7,886.7 411.7,941.7 448,941.7 478.7,941.7 586.3,942.7"/>
<polyline points="435,826.7 448,826 453,827.3 458,835 468,838.3 474.7,843.3 481.3,845 483,853.3 481.3,886.7 480,888 478.7,941.7"/>
<polyline points="483,853.3 499.7,854 500.3,871 681.3,872.7"/>
<polyline points="587.3,873.3 586.3,942.7 586.3,951.7 633,952.3"/>
<polyline points="483,941.7 484,975 496.3,983.3 498,993.3 514.7,1021"/>
<polyline points="593,731.7 601.3,741.7 611.3,753.3 626.3,768.3 634.7,778.3 644.7,790 648,798 654.7,808.3 658,821.7 664.7,831.7 671,833 678,843.3 686.3,843.3 696.3,838.3 703,836.7 708,842.7 714.7,830 724.7,820 729.7,821.7 734.7,831.7 741.3,833.3 744.7,840 751.3,846.7 809.7,842.7 904.3,875.5"/>
<polyline points="745.7,771 745.7,840"/>
<polyline points="678,843.3 684.7,848.3 684.7,861.7 681.3,868 681.3,876.7 678,885 678,895 674.7,906.7 633,952.3 638,961.7 634.7,971.7 636.3,990 633,1003.3 631.3,1011.7 633,1020 636.3,1023"/>
<polyline points="674.7,906.7 683,900 694.7,896.7 706.3,891.7 714.7,896.7 723,899.3 719.7,906.7 724.7,915 726.3,933.3 733,943.3 728,948.3 728,965 728.7,1024"/>
<polyline points="728,965 738,960 749.7,953.3 754.7,948.3 766.3,945 778,945 793,941.7 801.3,936.7 803,925 814.7,918.3 828,900 844.7,871.7 858,860"/>
<polyline points="626.3,768.3 763,770"/>
<polyline points="763,662.3 763,770"/>
<polyline points="601.3,682.3 716.3,682.3 716.3,692.3 763,691.7"/>
<polyline points="701.3,595 701.3,682.3"/>
<polyline points="691.3,595 896,594.3 903.3,595 903.3,790 904.3,893.3 1009.3,891.7 1226,886.7"/>
<polyline points="744.7,348.3 744.7,506.7 741.3,515 734.7,525 733,535 728,541.7 724.7,555 719.7,561.7 714.7,570 711.3,578.3 706.3,585 703,591.7 701.3,595"/>
<polyline points="744.7,348.3 763,348.3 763,218"/>
<polyline points="744.7,506.7 896,505.7 955.3,506 1096,501.7 1214.3,497.7"/>
<polyline points="772.5,472 896,471 955.3,470"/>
<polyline points="745.5,419.2 760.3,419.2"/>
<polyline points="754.1,419.2 754.7,414 759.2,410.6 760.3,410.6 760.3,419.2"/>
<polyline points="755.8,419.2 756.9,420.1 755.8,425.7 751.9,422.9 751.6,435.2 745.8,436.3"/>
<polyline points="745.5,424 741.3,426.8 736.8,433 735.2,429.1 733.5,428.5 731.3,433.5 730.1,436.9 727.9,436.9 727.9,441.3 733.5,441.3 732.4,438 737.9,439.1 743,439.1 745.5,436.9"/>
<polyline points="745.5,461.4 759.2,461.4 760.8,460.3 765.3,461.4 766.4,463.1 768.6,463.1 769.2,460.3 771.4,459.8 772,457 774.2,457 774.8,460.1 786.5,460.1 786.5,451.2 795.4,450.6 795.4,439.1 801,438.9 801.6,436.9 803.2,438 810.5,438.5 811.6,439.1 816.1,439.1 815,444.7 813.3,444.7 813.3,454.7 790.4,455.3 790.4,460.3 795.4,460.3 795.4,466.5 787.1,464.8 780.4,465.9 777,467 777,468.7 772,469.8 772.5,472"/>
<polyline points="772,470.4 774.8,480.4 771.4,482.6 768.6,486 773.7,486.5 777.6,488.8 772.5,491.6 772,495.5 767.5,495.5 767,492.1 761.4,488.8 755.8,486 751.6,484.9 749.1,488.2 748.5,494.4 745.8,494.4"/>
<polyline points="745.5,489.3 741.3,486 743.5,490.4 736.8,492.7 738,496 745.2,497.7"/>
<polyline points="744.7,418.3 884.7,418.3 991,416.7"/>
<polyline points="884.7,418.3 884.7,313.3 972,311.7 990,311.7 991,416.7"/>
<polyline points="972,311.7 972,216"/>
<polyline points="990,329.3 1096,327.7 1206,323.3"/>
<polyline points="1096,327.7 1096,343.3 1094,345 1094,413.3 1095.3,445 1095.3,501.7"/>
<polyline points="955.3,418.3 955.3,646.7"/>
<polyline points="1112.7,214 1113,263.3 1112,271.7 1113,327.7"/>
<polyline points="1113,263.3 1204.3,261"/>
<polyline points="1042,501.7 1042,590 1043.3,610 1043.3,680 1042.7,713.3"/>
<polyline points="1043.3,610 1216,604.3"/>
<polyline points="903.3,646.7 955.3,646.7"/>
<polyline points="1043.3,695.7 1219.3,691.7"/>
<polyline points="763,717.7 896,716.7 990,716 1042.7,713.3"/>
<polyline points="991,716 991,768.3 992.7,786.7 974.3,786.7 974.3,797.3 939.3,798.3 920,796 904.3,793.3"/>
<polyline points="992.7,767.7 1221,761"/>
<polyline points="1008.7,767 1009.3,891.7"/>
<polyline points="1112.7,764 1113.3,790 1115.3,889.3"/>
<polyline points="1062,891.7 1062.7,1021"/>
<polyline points="749.7,595 749.7,646.7 743,646.7 743,661.7 763,662.3"/>
<polyline points="806.3,505.7 806.3,594.7"/>
<polyline points="529.7,546 528,555 519.7,560 518,571.7 519.7,578.3 516.3,586.7 509.7,588.3 508,598.3 504.7,603.3 503,608.3 503,620 509.7,618.3 514.7,626.7 519.7,633.3 528,636.7 535,636 544.7,640 543,645 536.3,651.7 530.7,656.7 529.7,666.7 528,678.3 525.3,681 529.7,688.3 536.3,693.3 539.7,705 541.3,718.3 548,725 556.3,735"/>
<polyline points="503,608.3 566.3,608.3"/>
<polyline points="574.7,544 569.7,553.3 568,565 569.7,585 568,596.7 564.7,600 568,605 566.3,616.7 571.3,621.7 578,623.3 581.3,631.7 589.7,633.3 596.3,636.7 601.3,643.3 604.7,646.7 606.3,653.3 611.3,660 608,667 606.3,675 603,682.3 608,688.3 613,698.3 611.3,711.7 609.7,720 604.7,723.3 593,731.7 586.3,730 583,736.7"/>
</g>
<g fill="none" stroke="#000" stroke-width="3" stroke-linejoin="round">
<polyline points="15,197.5 34.8,198.5 54.6,199.6 74.5,200.6 94.3,201.6 114.1,202.5 133.9,203.4 153.7,204.4 173.5,205.2 193.3,206.1 213.2,206.9 233,207.7 252.8,208.5 272.6,209.2 292.4,209.9 312.2,210.6 332.1,211.3 351.9,211.9 371.7,212.5 391.5,213.1 411.3,213.7 431.1,214.2 451,214.7 470.8,215.1 490.6,215.4 510.4,215.8 530.2,216.1 550,216.3 569.9,216.6 589.7,216.8 609.5,217 629.3,217.2 649.1,217.3 669,217.5 688.8,217.5 708.6,217.6 728.4,217.6 748.2,217.6 768,217.6 787.9,217.6 807.7,217.5 827.5,217.4 847.3,217.3 867.1,217.1 886.9,217 906.8,216.7 926.6,216.5 946.4,216.3 966.2,216 986,215.7 1005.8,215.3 1025.7,214.9 1045.5,214.6 1065.3,214.1 1085.1,213.7 1104.9,213.2 1124.7,212.7 1144.5,212.2 1164.4,211.6 1184.2,211 1204,210.4"/>
<polyline points="135.5,203.6 99,1010.1 92.5,1140"/>
<polyline points="15,1006.1 36.9,1007.2 58.8,1008.2 80.8,1009.2 102.7,1010.2 124.6,1011.2 146.5,1012.1 168.4,1012.9 190.3,1013.8 212.2,1014.6 234.2,1015.4 256.1,1016.1 278,1016.8 299.9,1017.5 321.8,1018.1 343.8,1018.8 365.7,1019.3 387.6,1019.9 409.5,1020.4 431.4,1020.9 453.3,1021.3 475.2,1021.8 497.2,1022.2 519.1,1022.5 541,1022.8 562.9,1023.1 584.8,1023.4 606.8,1023.6 628.7,1023.8 650.6,1024 672.5,1024.1 694.4,1024.2 716.3,1024.3 738.2,1024.3 760.2,1024.3 782.1,1024.3 804,1024.2 825.9,1024.1 847.8,1024 869.8,1023.8 891.7,1023.7 913.6,1023.4 935.5,1023.2 957.4,1022.9 979.3,1022.6 1001.2,1022.2 1023.2,1021.8 1045.1,1021.4 1067,1021 1088.9,1020.5 1110.8,1020 1132.8,1019.4 1154.7,1018.8 1176.6,1018.2 1198.5,1017.6 1220.4,1016.9 1242.3,1016.2 1264.2,1015.5 1286.2,1014.7 1308.1,1013.9 1330,1013.1"/>
<polyline points="1204,210.5 1232.7,1016"/>
<polyline points="1211.2,411.7 1220,411.4 1230,411.1 1240,410.8 1250,410.4 1260,410.1 1270,409.7 1280,409.4 1290,409 1300,408.6 1310,408.2 1320,407.8 1330,407.4"/>
<polyline points="897.7,95 898.3,217"/>
<polyline points="1077.5,1021.2 1079.3,1121.8"/>
<polyline points="1072.7,1122.3 1080,1122.1 1090,1121.9 1100,1121.7 1110,1121.4 1120,1121.2 1130,1120.9 1140,1120.7 1150,1120.4 1160,1120.2 1170,1119.9 1180,1119.6 1190,1119.3 1200,1119 1210,1118.7 1220,1118.4 1230,1118.1 1240,1117.7 1250,1117.4 1260,1117.1 1270,1116.7 1280,1116.4 1290,1116 1300,1115.6 1310,1115.3 1320,1114.9 1330,1114.5"/>
<polyline points="1072.7,1122.3 1073,1140"/>
</g>
</g>
<rect x="20" y="99.6" width="1305" height="1035.3" fill="none" stroke="#000" stroke-width="1.7"/>
<rect x="378.5" y="111.5" width="589" height="95" fill="#fff" stroke="#000" stroke-width="2.8"/>
<text x="388" y="139.4" font-size="23.6" textLength="569" lengthAdjust="spacingAndGlyphs">statewide departure from 1901-2000 avg: +1.3°F</text>
<text x="388" y="166.2" font-size="23.6" textLength="558" lengthAdjust="spacingAndGlyphs">statewide departure from 1991-2020 avg: -0.1°F</text>
<text x="388" y="192.9" font-size="23.6" textLength="509" lengthAdjust="spacingAndGlyphs">statewide rank: 26th warmest/105th coldest</text>
<rect x="31.6" y="1041" width="627" height="83" fill="#fff" stroke="#000" stroke-width="2.8"/>
<text x="39.5" y="1066.5" font-size="21.4" textLength="313" lengthAdjust="spacingAndGlyphs">source: NOAA/NCEI nclimgrid</text>
<text x="39.5" y="1088.9" font-size="21.4" textLength="609" lengthAdjust="spacingAndGlyphs">map: Colorado Climate Center/Colorado State University</text>
<text x="39.5" y="1111.9" font-size="21.4" textLength="333" lengthAdjust="spacingAndGlyphs">map generated 14 March 2025</text>
<polygon points="123.2,1147.3 67.7,1167.3 123.2,1187.3" fill="#053061"/>
<polygon points="1222.2,1147.3 1277,1167.3 1222.2,1187.3" fill="#67001f"/>
<rect x="122.7" y="1147.3" width="110.3" height="40" fill="#124984"/>
<rect x="232.7" y="1147.3" width="110.3" height="40" fill="#327cb7"/>
<rect x="342.7" y="1147.3" width="110.3" height="40" fill="#6bacd1"/>
<rect x="452.7" y="1147.3" width="110.3" height="40" fill="#b1d5e7"/>
<rect x="562.7" y="1147.3" width="110.3" height="40" fill="#e4eef4"/>
<rect x="672.7" y="1147.3" width="110.3" height="40" fill="#fae9df"/>
<rect x="782.7" y="1147.3" width="110.3" height="40" fill="#f8bfa4"/>
<rect x="892.7" y="1147.3" width="110.3" height="40" fill="#e48066"/>
<rect x="1002.7" y="1147.3" width="110.3" height="40" fill="#c43b3c"/>
<rect x="1112.7" y="1147.3" width="110.3" height="40" fill="#8a0b25"/>
<polygon points="122.7,1147.3 1222.7,1147.3 1277,1167.3 1222.7,1187.3 122.7,1187.3 67.7,1167.3" fill="none" stroke="#000" stroke-width="2.1" stroke-linejoin="round"/>
<line x1="232.7" y1="1187.3" x2="232.7" y2="1195.6" stroke="#000" stroke-width="1.7"/>
<line x1="452.7" y1="1187.3" x2="452.7" y2="1195.6" stroke="#000" stroke-width="1.7"/>
<line x1="672.7" y1="1187.3" x2="672.7" y2="1195.6" stroke="#000" stroke-width="1.7"/>
<line x1="892.7" y1="1187.3" x2="892.7" y2="1195.6" stroke="#000" stroke-width="1.7"/>
<line x1="1112.7" y1="1187.3" x2="1112.7" y2="1195.6" stroke="#000" stroke-width="1.7"/>
<text x="233.5" y="1229.5" font-size="29.3" text-anchor="middle" textLength="63" lengthAdjust="spacingAndGlyphs">−2.4</text>
<text x="453.5" y="1229.5" font-size="29.3" text-anchor="middle" textLength="63" lengthAdjust="spacingAndGlyphs">−1.2</text>
<text x="673.5" y="1229.5" font-size="29.3" text-anchor="middle">0.0</text>
<text x="893.5" y="1229.5" font-size="29.3" text-anchor="middle">1.2</text>
<text x="1113.5" y="1229.5" font-size="29.3" text-anchor="middle">2.4</text>
<text x="326.5" y="1272.8" font-size="34.5" textLength="690" lengthAdjust="spacingAndGlyphs">temperature departure from average (°F)</text>
</svg></body></html>
